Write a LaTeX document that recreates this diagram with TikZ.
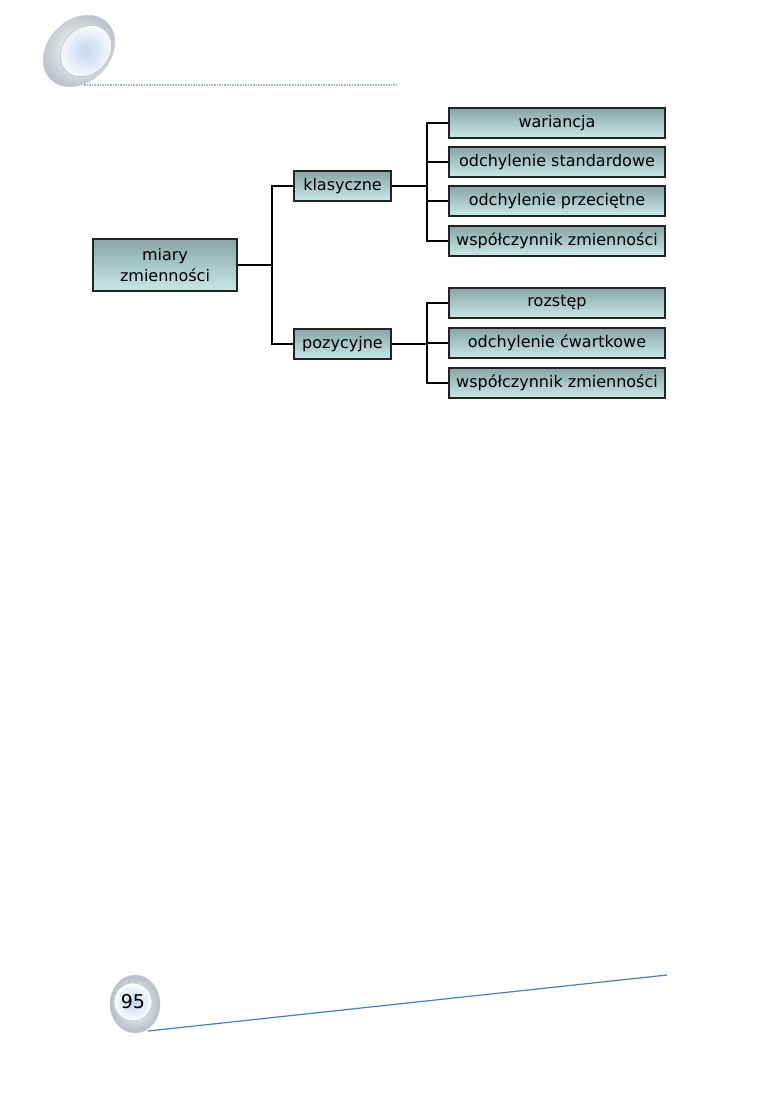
\documentclass[tikz,border=0pt]{standalone}
\usepackage{fontspec}
\setmainfont{DejaVu Sans}
\usetikzlibrary{shapes.geometric}
\definecolor{boxtop}{RGB}{138,166,166}
\definecolor{boxbot}{RGB}{200,232,232}
\definecolor{boxline}{RGB}{35,35,35}
\definecolor{footline}{RGB}{70,125,195}
\definecolor{headline}{RGB}{165,182,205}
\definecolor{discblue}{RGB}{196,214,238}
\definecolor{discedge}{RGB}{185,190,200}
\tikzset{
  box/.style={draw=boxline, line width=1.6pt, top color=boxtop, bottom color=boxbot,
    inner sep=0pt, align=center, font=\fontsize{16}{20.5}\selectfont, text=black},
  smallbox/.style={box, minimum width=97pt, minimum height=30pt},
  leafbox/.style={box, minimum width=216pt, minimum height=30pt},
  conn/.style={draw=black, line width=1.3pt},
  discout/.style={inner color=white, outer color=discedge, draw=discedge!80, line width=0.4pt},
  discin/.style={inner color=discblue, outer color=white!95!discblue, draw=gray!45, line width=0.6pt}
}
\begin{document}
\begin{tikzpicture}[x=1pt,y=-1pt]
\useasboundingbox (0,0) rectangle (774,1093);
% header decoration
\draw[headline, line width=1.6pt, densely dotted] (84,85) -- (397,85);
\shade[discout, rotate around={45:(79,51)}] (79,51) ellipse [x radius=40, y radius=31];
\shade[discin, rotate around={45:(86,51)}] (86,51) ellipse [x radius=28, y radius=23];
% nodes
\node[box, minimum width=144pt, minimum height=52pt] (m) at (165,265) {miary\\zmienności};
\node[smallbox] (k) at (342.5,186) {klasyczne};
\node[smallbox] (p) at (342.5,344) {pozycyjne};
\node[leafbox] (k1) at (557,123) {wariancja};
\node[leafbox] (k2) at (557,162) {odchylenie standardowe};
\node[leafbox] (k3) at (557,201) {odchylenie przeciętne};
\node[leafbox] (k4) at (557,241) {współczynnik zmienności};
\node[leafbox] (p1) at (557,303) {rozstęp};
\node[leafbox] (p2) at (557,343) {odchylenie ćwartkowe};
\node[leafbox] (p3) at (557,383) {współczynnik zmienności};
% junctions
\coordinate (j1) at (272,265);
\coordinate (j2) at (427,186);
\coordinate (j3) at (427,344);
\draw[conn] (m.east) -- (j1);
\draw[conn] (j1) |- (k.west);
\draw[conn] (j1) |- (p.west);
\draw[conn] (k.east) -- (j2);
\draw[conn] (j2) |- (k1.west);
\draw[conn] (j2) |- (k2.west);
\draw[conn] (j2) |- (k3.west);
\draw[conn] (j2) |- (k4.west);
\draw[conn] (p.east) -- (j3);
\draw[conn] (j3) |- (p1.west);
\draw[conn] (j3) |- (p2.west);
\draw[conn] (j3) |- (p3.west);
% footer
\coordinate (fl1) at (148,1031);
\coordinate (fl2) at (667,975);
\draw[footline, line width=1.2pt] (fl1) -- (fl2);
\shade[discout] (135,1004) ellipse [x radius=25, y radius=29];
\shade[discin] (133,1002) circle [radius=19];
\node[font=\fontsize{19}{22}\selectfont, text=black] (pg) at (133,1002) {95};
\end{tikzpicture}
\end{document}
